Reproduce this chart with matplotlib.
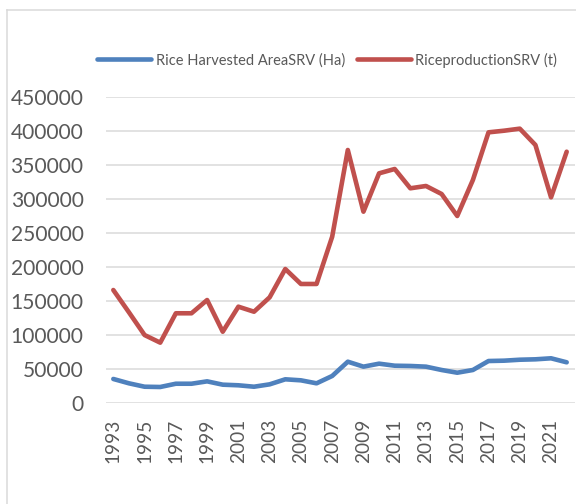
import matplotlib
matplotlib.use("Agg")
import matplotlib.pyplot as plt
from matplotlib.lines import Line2D

years = list(range(1993, 2023))
area = [34900, 28500, 23500, 23100, 27900, 27900, 31400, 26500, 25600, 23500,
        27000, 34400, 32900, 28500, 39300, 60300, 53000, 57400, 54400, 54000,
        53000, 48100, 44100, 48100, 61300, 61800, 63200, 63800, 65300, 59400]
production = [165700, 132900, 99500, 88300, 131500, 131500, 151000, 104400, 141200, 133800,
              155000, 196600, 174600, 174600, 244100, 371600, 280900, 337300, 343700, 315300,
              318700, 306900, 274600, 327500, 397600, 400000, 403000, 379000, 302000, 369100]
series_names = ["Rice Harvested AreaSRV (Ha)", "RiceproductionSRV (t)"]
yticks = list(range(0, 450001, 50000))
xtick_years = years[::2]

W, H = 576, 504
fig = plt.figure(figsize=(W / 72, H / 72), dpi=72)
font = "Lato"
txt = "#595959"

ax = fig.add_axes([105.5 / W, 1 - 402.7 / H, (574.5 - 105.5) / W, (402.7 - 96.7) / H])
l1, = ax.plot(years, area, color="#4F81BD", lw=4.6, solid_capstyle="round", solid_joinstyle="round")
l2, = ax.plot(years, production, color="#C0504D", lw=4.6, solid_capstyle="round", solid_joinstyle="round")
ax.set_xlim(1992.5, 2022.5)
ax.set_ylim(0, 450000)
ax.set_yticks(yticks)
ax.set_yticklabels([str(v) for v in yticks], fontname=font, fontsize=21, color=txt)
ax.set_xticks(xtick_years)
ax.set_xticklabels([str(y) for y in xtick_years], rotation=90, fontname=font, fontsize=19, color=txt)
ax.tick_params(axis="y", length=0, pad=22)
ax.tick_params(axis="x", length=0, pad=16)
ax.grid(axis="y", color="#D9D9D9", lw=1.5)
ax.set_axisbelow(True)
for s in ax.spines.values():
    s.set_visible(False)
l1.set_zorder(3)
l2.set_zorder(3)

# outer chart border (partially cropped)
fig.add_artist(Line2D([7 / W, 1], [1 - 10 / H, 1 - 10 / H], color="#D9D9D9", lw=1.5, transform=fig.transFigure))
fig.add_artist(Line2D([7 / W, 7 / W], [1 - 10 / H, 0], color="#D9D9D9", lw=1.5, transform=fig.transFigure))

leg = fig.legend([l1, l2], series_names, loc="center", bbox_to_anchor=(327 / W, 1 - 60 / H),
                 ncol=2, frameon=False, handlelength=3.7, handletextpad=0.3, columnspacing=0.8,
                 prop={"family": font, "size": 14.6})
for t in leg.get_texts():
    t.set_color(txt)

fig.savefig("out.png", dpi=72)
